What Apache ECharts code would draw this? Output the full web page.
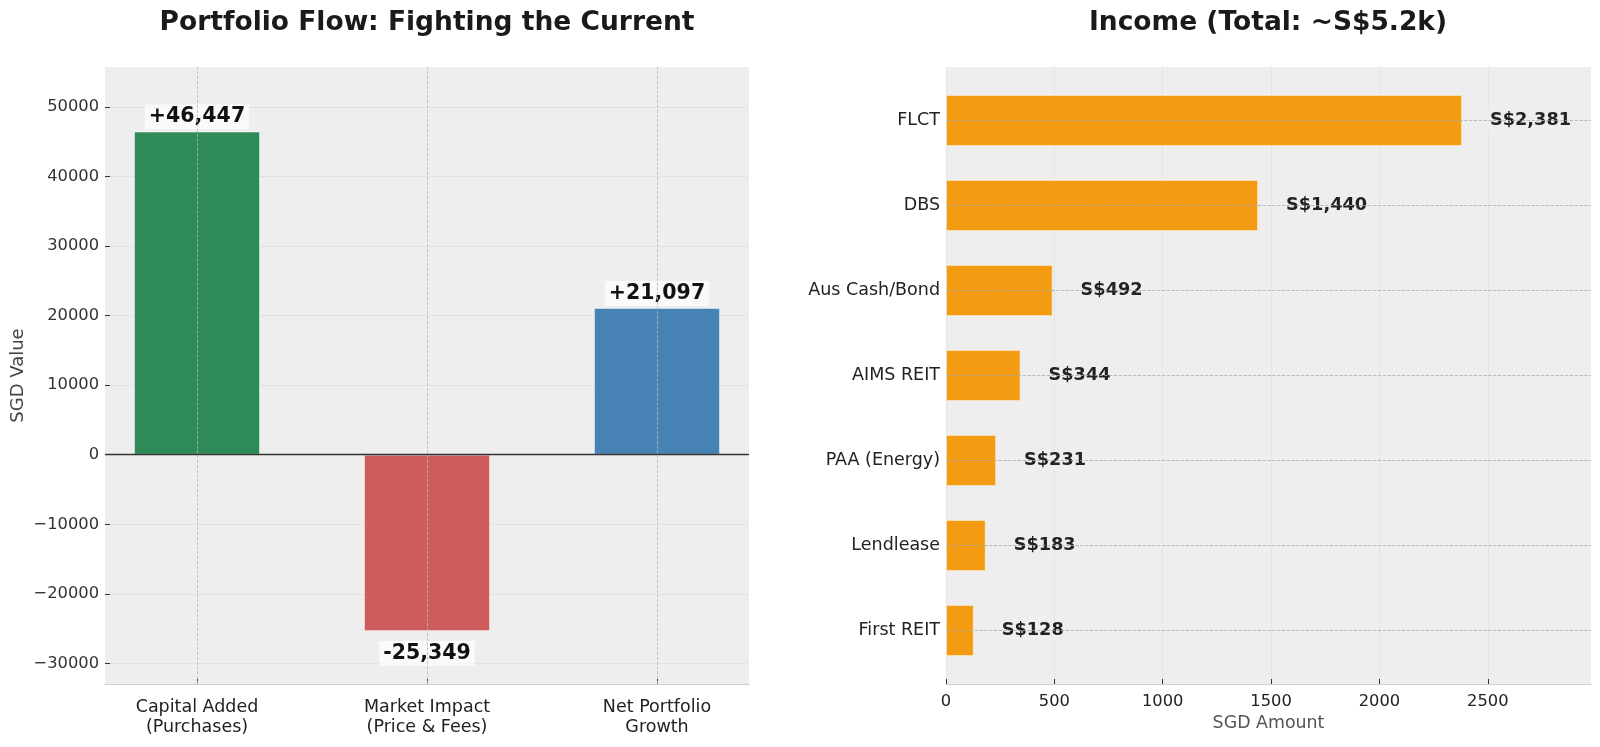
<!DOCTYPE html>
<html>
<head>
<meta charset="utf-8">
<title>Portfolio Flow & Income</title>
<script src="https://cdn.jsdelivr.net/npm/echarts@6.0.0/dist/echarts.min.js"></script>
<style>
  html, body { margin: 0; padding: 0; background: #ffffff; }
  #chart { width: 1600px; height: 747px; }
</style>
</head>
<body>
<div id="chart"></div>
<script>
// left panel: portfolio flow
const flowCats = ['Capital Added\n(Purchases)', 'Market Impact\n(Price & Fees)', 'Net Portfolio\nGrowth']
const flowValues = [46447, -25349, 21097]
const flowColors = ['#2E8B57', '#CD5C5C', '#4682B4']
const flowTicks = [-30000, -20000, -10000, 0, 10000, 20000, 30000, 40000, 50000]

// right panel: income by holding
const incomeCats = ['FLCT', 'DBS', 'Aus Cash/Bond', 'AIMS REIT', 'PAA (Energy)', 'Lendlease', 'First REIT']
const incomeValues = [2381, 1440, 492, 344, 231, 183, 128]
const incomeTicks = [0, 500, 1000, 1500, 2000, 2500]

// axis limits the same way the original padded them
const flowMin = Math.min(...flowValues) * 1.3
const flowMax = Math.max(...flowValues) * 1.2
const incomeMax = Math.max(...incomeValues) * 1.25

const FONT = 'DejaVu Sans'
const BG = '#eeeeee'

const minusFmt = (v) => (v < 0 ? '\u2212' + Math.abs(v) : String(v))
const signFmt = (v) => (v > 0 ? '+' : '') + v.toLocaleString('en-US')

const plainLine = {
  silent: true,
  symbol: ['none', 'none'],
  label: { show: false },
  emphasis: { disabled: true }
}

const option = {
  animation: false,
  textStyle: { fontFamily: FONT },
  title: [
    {
      text: 'Portfolio Flow: Fighting the Current',
      left: 427,
      top: 10,
      textAlign: 'center',
      padding: 0,
      textStyle: { fontFamily: FONT, fontSize: 26.5, fontWeight: 'bold', color: '#1a1a1a' }
    },
    {
      text: 'Income (Total: ~S$5.2k)',
      left: 1268,
      top: 10,
      textAlign: 'center',
      padding: 0,
      textStyle: { fontFamily: FONT, fontSize: 26.5, fontWeight: 'bold', color: '#1a1a1a' }
    }
  ],
  grid: [
    { left: 105, top: 67, width: 644, height: 617, show: true, backgroundColor: BG, borderWidth: 0 },
    { left: 946, top: 67, width: 645, height: 617, show: true, backgroundColor: BG, borderWidth: 0 },
    { left: 946, top: 78, width: 645, height: 595 }
  ],
  xAxis: [
    {
      gridIndex: 0,
      type: 'value',
      min: -0.4,
      max: 2.4,
      axisLine: { onZero: false, lineStyle: { color: '#d0d0d0', width: 1 } },
      axisTick: { inside: true, length: 5, customValues: [0, 1, 2], lineStyle: { color: '#333' } },
      axisLabel: {
        customValues: [0, 1, 2],
        formatter: (v) => flowCats[Math.round(v)],
        fontSize: 17.5,
        lineHeight: 20,
        color: '#222',
        margin: 13
      },
      splitLine: { show: false }
    },
    {
      gridIndex: 1,
      type: 'value',
      min: 0,
      max: incomeMax,
      interval: 500,
      axisLine: { onZero: false, lineStyle: { color: '#d0d0d0', width: 1 } },
      axisTick: { inside: true, length: 5, customValues: incomeTicks, lineStyle: { color: '#333' } },
      axisLabel: { customValues: incomeTicks, formatter: (v) => String(v), fontSize: 16.3, color: '#222', margin: 10 },
      splitLine: { show: true, lineStyle: { color: '#dadada', type: 'dotted', width: 1 } },
      name: 'SGD Amount',
      nameLocation: 'middle',
      nameGap: 28,
      nameTextStyle: { fontFamily: FONT, fontSize: 17.4, color: '#555' }
    },
    { gridIndex: 2, type: 'value', min: 0, max: incomeMax, show: false }
  ],
  yAxis: [
    {
      gridIndex: 0,
      type: 'value',
      min: flowMin,
      max: flowMax,
      splitNumber: 9,
      axisLine: { show: false, onZero: false },
      axisTick: { show: true, inside: true, length: 5, customValues: flowTicks, lineStyle: { color: '#333' } },
      axisLabel: { customValues: flowTicks, formatter: minusFmt, fontSize: 16.3, color: '#333', margin: 6 },
      splitLine: { show: true, lineStyle: { color: '#d6d6d6', type: 'dotted', width: 1 } },
      name: 'SGD Value',
      nameLocation: 'middle',
      nameGap: 78,
      nameTextStyle: { fontFamily: FONT, fontSize: 18, color: '#444' }
    },
    { gridIndex: 1, type: 'value', min: 0, max: 1, show: false },
    {
      gridIndex: 2,
      type: 'category',
      inverse: true,
      data: incomeCats,
      axisLine: { show: false },
      axisTick: { show: false },
      axisLabel: { fontSize: 17.5, color: '#222', margin: 6 },
      splitLine: { show: false }
    }
  ],
  series: [
    // dashed vertical grid at each category, behind bars
    {
      type: 'line',
      xAxisIndex: 0,
      yAxisIndex: 0,
      data: [],
      z: 1,
      markLine: {
        ...plainLine,
        lineStyle: { color: '#b8b8b8', type: 'dashed', width: 0.8 },
        data: flowValues.map((_, i) => ({ xAxis: i }))
      }
    },
    {
      type: 'bar',
      xAxisIndex: 0,
      yAxisIndex: 0,
      z: 2,
      barWidth: 126,
      data: flowValues.map((v, i) => ({
        value: [i, v],
        itemStyle: { color: flowColors[i] },
        label: { position: v < 0 ? 'bottom' : 'top', distance: v < 0 ? 10 : 2 }
      })),
      itemStyle: { borderColor: 'rgba(255,255,255,0.45)', borderWidth: 1 },
      label: {
        show: true,
        formatter: (p) => signFmt(p.value[1]),
        fontFamily: FONT,
        fontSize: 20.5,
        fontWeight: 'bold',
        color: '#111',
        backgroundColor: 'rgba(255,255,255,0.7)',
        padding: [2, 4]
      },
      markLine: {
        ...plainLine,
        lineStyle: { color: '#333', type: 'solid', width: 1.3 },
        data: [{ yAxis: 0 }]
      }
    },
    // dashed horizontal grid at each holding, behind bars
    {
      type: 'line',
      xAxisIndex: 2,
      yAxisIndex: 2,
      data: [],
      z: 1,
      markLine: {
        ...plainLine,
        lineStyle: { color: '#ababab', type: 'dashed', width: 0.8 },
        data: incomeCats.map((c) => ({ yAxis: c }))
      }
    },
    {
      type: 'bar',
      xAxisIndex: 2,
      yAxisIndex: 2,
      z: 2,
      barWidth: 51,
      data: incomeValues,
      itemStyle: { color: '#F39C12', borderColor: 'rgba(255,255,255,0.4)', borderWidth: 1 },
      label: {
        show: true,
        position: 'right',
        distance: 26,
        formatter: (p) => 'S$' + p.value.toLocaleString('en-US'),
        fontFamily: FONT,
        fontSize: 17.7,
        fontWeight: 'bold',
        color: '#222',
        backgroundColor: BG,
        padding: [1, 2]
      }
    }
  ]
}

const myChart = echarts.init(document.getElementById('chart'))
myChart.setOption(option)
window.onresize = () => {
  myChart.resize()
}
</script>
</body>
</html>
